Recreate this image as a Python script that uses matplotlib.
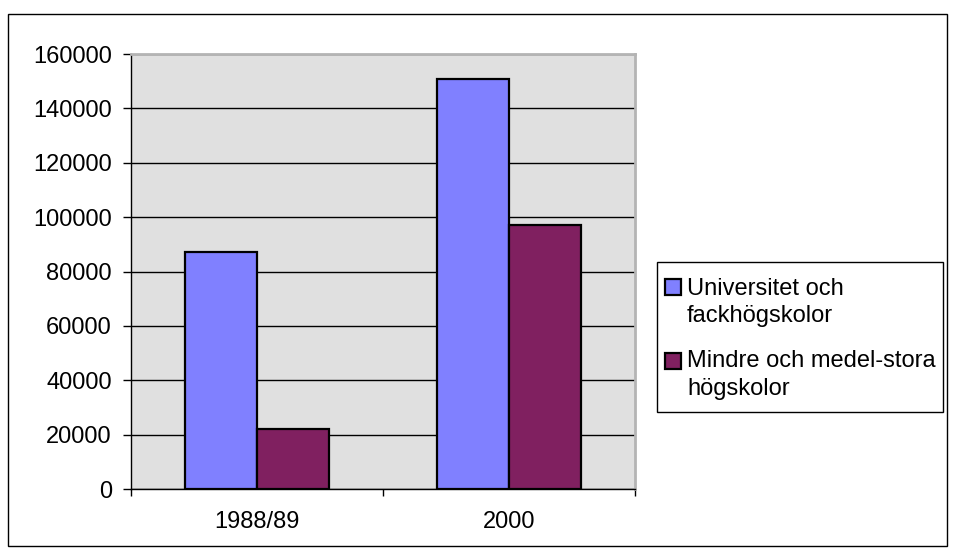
import matplotlib
matplotlib.use("Agg")
import matplotlib.pyplot as plt
from matplotlib.patches import Rectangle
import numpy as np

categories = ["1988/89", "2000"]
series_names = [["Universitet och", "fackhögskolor"], ["Mindre och medel-stora", "högskolor"]]
universitet = [87000, 150700]
mindre = [22000, 97000]
colors = ['#8080FF', '#802060']
yticks = [0, 20000, 40000, 60000, 80000, 100000, 120000, 140000, 160000]

plt.rcParams['font.family'] = ['Liberation Sans', 'DejaVu Sans']
FS = 17

W, H = 955, 554
fig = plt.figure(figsize=(W / 100, H / 100), dpi=100)

def fx(px):
    return px / W

def fy(py):
    return 1 - py / H

# outer chart border
fig.patches.append(Rectangle((fx(8), fy(546)), (947 - 8) / W, (546 - 14) / H,
                             transform=fig.transFigure, fill=False, edgecolor='black',
                             linewidth=1.0))

x0, x1, y0, y1 = 131, 635, 54, 489
ax = fig.add_axes([fx(x0), fy(y1), (x1 - x0) / W, (y1 - y0) / H])
ax.set_facecolor('#E0E0E0')

x = np.arange(len(categories))
bw = 1 / 3.5
b1 = ax.bar(x - bw / 2, universitet, bw, color=colors[0], edgecolor='black', linewidth=1.6,
            zorder=3)
b2 = ax.bar(x + bw / 2, mindre, bw, color=colors[1], edgecolor='black', linewidth=1.6,
            zorder=3)

ax.set_xlim(-0.5, 1.5)
ax.set_ylim(0, 160000)
ax.set_yticks(yticks)
ax.set_yticklabels([str(v) for v in yticks], fontsize=FS)
ax.set_xticks([-0.5, 0.5, 1.5], minor=False)
ax.set_xticklabels([])
ax.set_xticks(x, minor=True)
ax.set_xticklabels(categories, minor=True, fontsize=FS)
ax.tick_params(axis='x', which='minor', length=0, pad=16)
ax.tick_params(axis='x', which='major', length=5, width=1, direction='out', color='black')
ax.tick_params(axis='y', length=5.8, width=1, direction='out', pad=8, color='black')

ax.grid(axis='y', color='black', linewidth=1.0, zorder=1)
ax.set_axisbelow(True)
for s in ['top', 'right']:
    ax.spines[s].set_color('#B4B4B4')
    ax.spines[s].set_linewidth(2.0)
for s in ['left', 'bottom']:
    ax.spines[s].set_color('black')
    ax.spines[s].set_linewidth(1.0)
ax.spines['bottom'].set_zorder(4)

# legend (drawn manually to match the spreadsheet layout)
fig.patches.append(Rectangle((fx(657), fy(412)), (943 - 657) / W, (412 - 262) / H,
                             transform=fig.transFigure, facecolor='white',
                             edgecolor='black', linewidth=1.0))
squares_top = [279, 353]
baselines = [[295, 322], [367, 395]]
for i, name_lines in enumerate(series_names):
    t = squares_top[i]
    fig.patches.append(Rectangle((fx(665), fy(t + 16)), 16 / W, 16 / H,
                                 transform=fig.transFigure, facecolor=colors[i],
                                 edgecolor='black', linewidth=1.6))
    for line, bl in zip(name_lines, baselines[i]):
        fig.text(fx(687), fy(bl), line, fontsize=FS, ha='left', va='baseline')

fig.savefig("out.png", dpi=100)
